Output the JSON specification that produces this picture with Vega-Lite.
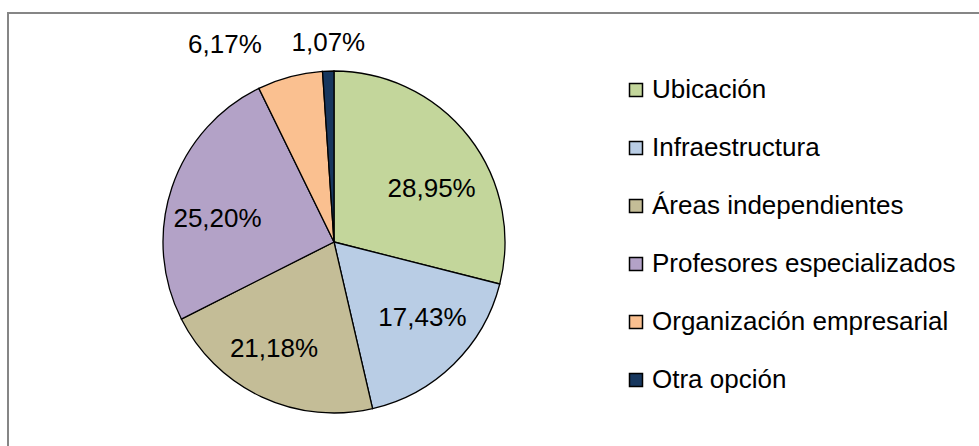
{
  "$schema": "https://vega.github.io/schema/vega-lite/v6.json",
  "autosize": "none",
  "width": 1100,
  "height": 560,
  "padding": {"left": 8, "top": 13, "right": -129, "bottom": -127},
  "background": "white",
  "config": {
    "view": {"stroke": "#868686", "strokeWidth": 2},
    "font": "Liberation Sans"
  },
  "data": {
    "values": [
      {"categoria": "Ubicación", "valor": 28.95, "etiqueta": "28,95%", "orden": 1},
      {"categoria": "Infraestructura", "valor": 17.43, "etiqueta": "17,43%", "orden": 2},
      {"categoria": "Áreas independientes", "valor": 21.18, "etiqueta": "21,18%", "orden": 3},
      {"categoria": "Profesores especializados", "valor": 25.20, "etiqueta": "25,20%", "orden": 4},
      {"categoria": "Organización empresarial", "valor": 6.17, "etiqueta": "6,17%", "orden": 5},
      {"categoria": "Otra opción", "valor": 1.07, "etiqueta": "1,07%", "orden": 6}
    ]
  },
  "encoding": {
    "theta": {"field": "valor", "type": "quantitative", "stack": true},
    "order": {"field": "orden", "type": "quantitative"},
    "x": {"value": 326},
    "y": {"value": 229}
  },
  "layer": [
    {
      "mark": {"type": "arc", "outerRadius": 171, "stroke": "black", "strokeWidth": 1.3},
      "encoding": {
        "color": {
          "field": "categoria",
          "type": "nominal",
          "sort": ["Ubicación", "Infraestructura", "Áreas independientes", "Profesores especializados", "Organización empresarial", "Otra opción"],
          "scale": {
            "domain": ["Ubicación", "Infraestructura", "Áreas independientes", "Profesores especializados", "Organización empresarial", "Otra opción"],
            "range": ["#C3D69B", "#B9CDE5", "#C4BD97", "#B3A2C7", "#FAC090", "#17375E"]
          },
          "legend": {
            "title": null,
            "orient": "none",
            "legendX": 615,
            "legendY": 64,
            "padding": 0,
            "symbolType": "square",
            "symbolSize": 169,
            "symbolStrokeColor": "black",
            "symbolStrokeWidth": 1.5,
            "labelFont": "Liberation Sans",
            "labelFontSize": 26,
            "labelColor": "black",
            "labelLimit": 400,
            "labelOffset": 3,
            "rowPadding": 32
          }
        }
      }
    },
    {
      "mark": {"type": "text", "radius": 125, "dx": -1, "dy": 24, "fontSize": 26, "font": "Liberation Sans", "color": "black"},
      "encoding": {
        "text": {"condition": {"test": "datum.categoria !== 'Ubicación'", "value": ""}, "field": "etiqueta"}
      }
    },
    {
      "mark": {"type": "text", "radius": 125, "dx": 1, "dy": -13, "fontSize": 26, "font": "Liberation Sans", "color": "black"},
      "encoding": {
        "text": {"condition": {"test": "datum.categoria !== 'Infraestructura'", "value": ""}, "field": "etiqueta"}
      }
    },
    {
      "mark": {"type": "text", "radius": 125, "dx": -7, "dy": -6, "fontSize": 26, "font": "Liberation Sans", "color": "black"},
      "encoding": {
        "text": {"condition": {"test": "datum.categoria !== 'Áreas independientes'", "value": ""}, "field": "etiqueta"}
      }
    },
    {
      "mark": {"type": "text", "radius": 125, "dx": 2, "dy": 17, "fontSize": 26, "font": "Liberation Sans", "color": "black"},
      "encoding": {
        "text": {"condition": {"test": "datum.categoria !== 'Profesores especializados'", "value": ""}, "field": "etiqueta"}
      }
    },
    {
      "mark": {"type": "text", "radius": 198, "dx": -58, "dy": -6, "fontSize": 26, "font": "Liberation Sans", "color": "black"},
      "encoding": {
        "text": {"condition": {"test": "datum.categoria !== 'Organización empresarial'", "value": ""}, "field": "etiqueta"}
      }
    },
    {
      "mark": {"type": "text", "radius": 198, "dx": 1, "dy": -1, "fontSize": 26, "font": "Liberation Sans", "color": "black"},
      "encoding": {
        "text": {"condition": {"test": "datum.categoria !== 'Otra opción'", "value": ""}, "field": "etiqueta"}
      }
    }
  ]
}
